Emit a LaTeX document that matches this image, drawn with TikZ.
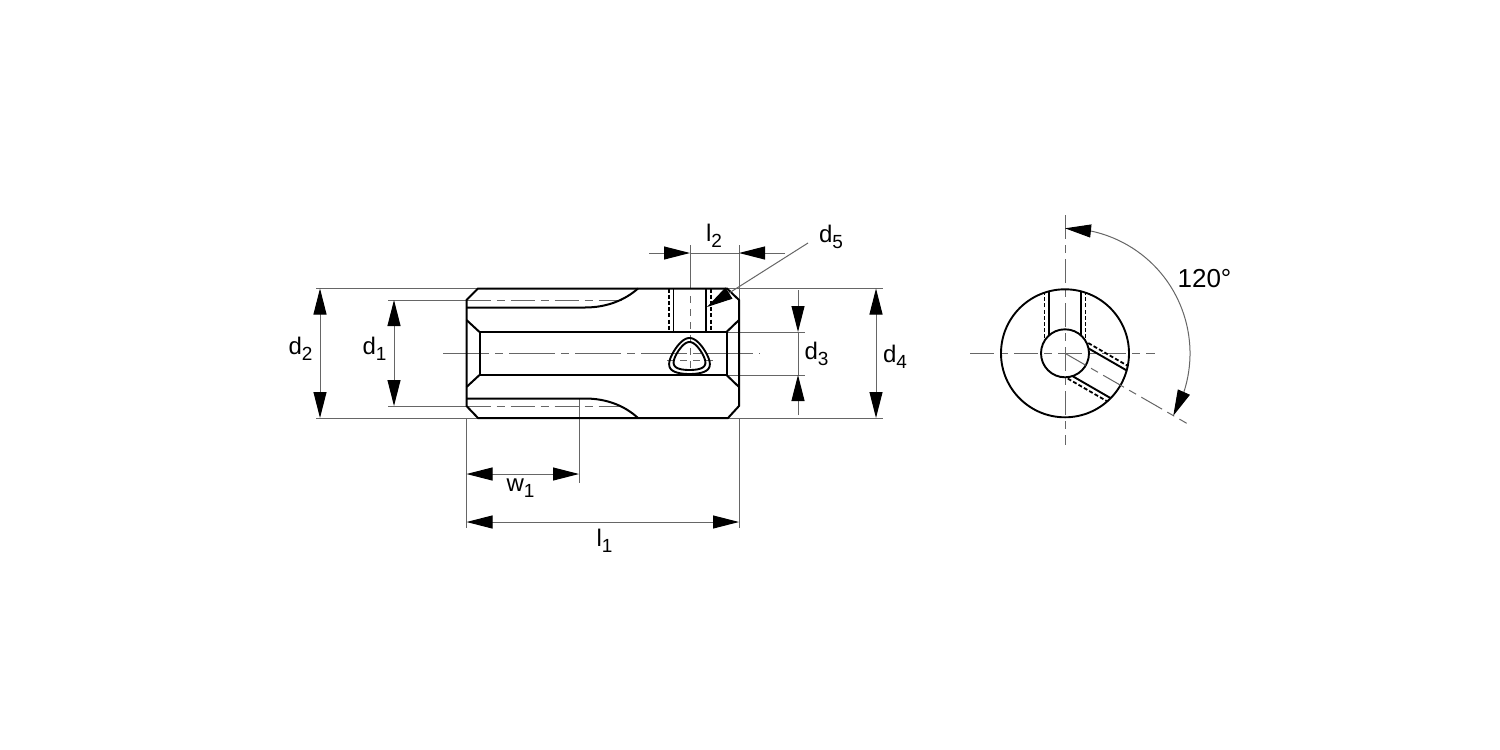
\documentclass[tikz,border=0pt]{standalone}
\usepackage{fontspec}
\setmainfont{Liberation Sans}
\usetikzlibrary{arrows.meta,bending}
\newcommand{\lbl}[2]{\fontsize{24}{28}\selectfont #1\raisebox{-5.5pt}{\fontsize{19}{22}\selectfont #2}}
\tikzset{
  x=1pt,y=-1pt,
  main/.style={line width=2pt,black,line join=miter},
  mainthin/.style={line width=1.9pt,black},
  hid/.style={line width=2pt,black,dash pattern=on 4pt off 2.2pt},
  thin line/.style={line width=1pt,black!60},
  center line/.style={line width=1pt,black!60,dash pattern=on 46pt off 6pt on 8pt off 6pt},
  center short/.style={line width=1pt,black!60,dash pattern=on 24pt off 6pt on 8pt off 6pt},
  center mini/.style={line width=1pt,black!60,dash pattern=on 7pt off 6pt},
  tipend/.style={-{Triangle[length=26pt,width=13pt,flex,black]}},
  bothend/.style={{Triangle[length=26pt,width=13pt,flex,black]}-{Triangle[length=26pt,width=13pt,flex,black]}},
  label text/.style={inner sep=0pt,anchor=center,text=black}
}
\begin{document}
\begin{tikzpicture}
\useasboundingbox (0,0) rectangle (1500,750);
\fill[white] (0,0) rectangle (1500,750);

% coordinates of the side view
\coordinate (c) at (1065,353.3);

% extension lines
\draw[thin line] (316,288.5) -- (478,288.5);
\draw[thin line] (316,418) -- (478,418);
\draw[thin line] (388,300) -- (466.5,300);
\draw[thin line] (388,406) -- (466.5,406);
\draw[thin line] (727,288.5) -- (883,288.5);
\draw[thin line] (727,418) -- (883,418);
\draw[thin line] (727,332) -- (805,332);
\draw[thin line] (727,375) -- (805,375);
\draw[thin line] (466.5,418) -- (466.5,528);
\draw[thin line] (739,418) -- (739,528);
\draw[thin line] (579,398.5) -- (579,483);
\draw[thin line] (690,245) -- (690,288.5);
\draw[thin line] (739,245) -- (739,300);

% centre lines
\draw[center short] (466.5,300) -- (622,300);
\draw[center short] (466.5,406) -- (622,406);
\draw[center line] (443,353) -- (760,353);
\draw[center mini] (667,360.5) -- (713,360.5);
\draw[center mini] (690,296) -- (690,376);

% main outline
\draw[main] (478,288.5) -- (727,288.5) -- (739,300) -- (739,406) -- (728,418) -- (478,418) -- (466.5,406) -- (466.5,300) -- cycle;
\draw[main] (479.5,332) rectangle (726.5,375);
\draw[main] (466.5,320) -- (479.5,332);
\draw[main] (466.5,387) -- (479.5,375);
\draw[main] (739,320) -- (726.5,332);
\draw[main] (739,387) -- (726.5,375);
\draw[main] (466.5,307.5) -- (585,307.5) .. controls (607,307.5) and (625,300) .. (638,288.5);
\draw[main] (466.5,398.5) -- (585,398.5) .. controls (607,398.5) and (625,406) .. (638,418);

% radial hole, side view
\draw[mainthin] (673.5,288.5) -- (673.5,332);
\draw[mainthin] (706,288.5) -- (706,332);
\draw[hid] (668.5,288.5) -- (668.5,332);
\draw[hid] (710.5,288.5) -- (710.5,332);

% hole opening
\draw[mainthin] plot[smooth cycle,samples=60,domain=0:354] ({689.5+1.1*(18*sin(\x)-2.2*sin(2*\x))},{358.2-18*cos(\x)-2.2*cos(2*\x)});
\draw[mainthin] plot[smooth cycle,samples=60,domain=0:354] ({689.5+1.1*(14*sin(\x)-1.8*sin(2*\x))},{357.8-14*cos(\x)-1.8*cos(2*\x)});

% dimension lines, left view
\draw[thin line,bothend] (320,288.5) -- (320,418);
\draw[thin line,bothend] (394,300) -- (394,406);
\draw[thin line,bothend] (876,288.5) -- (876,418);
\draw[thin line] (798,332) -- (798,375);
\draw[thin line,tipend] (798,290) -- (798,332);
\draw[thin line,tipend] (798,415) -- (798,375);
\draw[thin line,bothend] (466.5,474) -- (579,474);
\draw[thin line,bothend] (466.5,522) -- (739,522);
\draw[thin line] (690,253) -- (739,253);
\draw[thin line,tipend] (649,253) -- (690,253);
\draw[thin line,tipend] (785,253) -- (739,253);
\draw[thin line,tipend] (808,243) -- (707,307);

% end view
\draw[center short] (970,353.3) -- (1155,353.3);
\draw[center short] (1065,215) -- (1065,445);
\draw[mainthin] (c) circle[radius=64];
\draw[mainthin] (c) circle[radius=24];
\begin{scope}[shift={(c)}]
  \foreach \r in {0,-120}{
    \begin{scope}[rotate=\r]
      \draw[mainthin] (-16,-18) -- (-16,-62);
      \draw[mainthin] (16,-18) -- (16,-62);
      \draw[hid,line width=1.8pt] (-20.5,-15) -- (-20.5,-60.6);
      \draw[hid,line width=1.8pt] (20.5,-15) -- (20.5,-60.6);
    \end{scope}
  }
  \draw[center short] (0,0) -- (121.7,70);
  \draw[thin line,bothend] (30:125) arc[start angle=30,end angle=-90,radius=125];
\end{scope}

% labels
\node[label text] (t2) at (300.5,349) {\lbl{d}{2}};
\node[label text] (t1) at (374.5,349) {\lbl{d}{1}};
\node[label text] (t3) at (816.5,354) {\lbl{d}{3}};
\node[label text] (t4) at (895,357) {\lbl{d}{4}};
\node[label text] (t5) at (831,237) {\lbl{d}{5}};
\node[label text] (tl2) at (714,236) {\lbl{l}{2}};
\node[label text] (tl1) at (604.5,541) {\lbl{l}{1}};
\node[label text] (tw1) at (520.5,488) {\lbl{w}{1}};
\node[label text] (ta) at (1204.5,279) {\fontsize{26}{30}\selectfont 120°};
\end{tikzpicture}
\end{document}
